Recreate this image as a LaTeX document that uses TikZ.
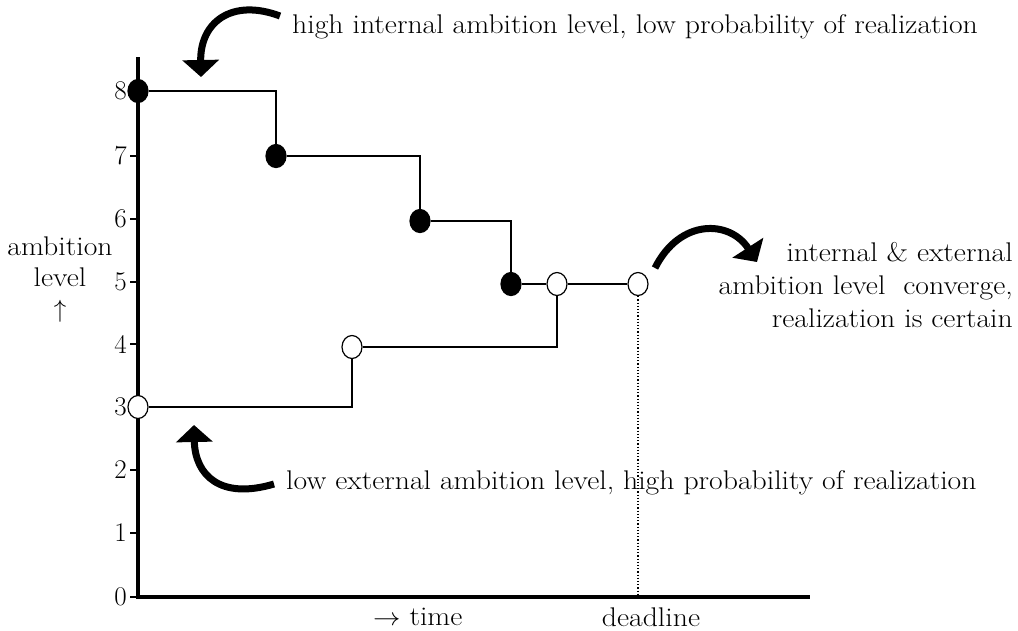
\documentclass[tikz,border=0pt]{standalone}
\usetikzlibrary{shapes.geometric,arrows.meta}
\newcommand{\wide}[1]{\scalebox{1.1}[1]{#1}}
\begin{document}
\begin{tikzpicture}[x=1pt,y=-1pt,
  lbl/.style={font=\fontsize{27}{31}\selectfont, inner sep=0pt},
  filled/.style={ellipse, draw, fill=black, line width=1.2pt,
    minimum width=20pt, minimum height=23pt, inner sep=0pt},
  hollow/.style={filled, fill=white},
  stepline/.style={line width=1.4pt},
  bigarrow/.style={line width=7pt, -{Triangle[width=36pt,length=17pt]}},
  axisline/.style={line width=4pt}]
\useasboundingbox (0,0) rectangle (1018,630);

% axes
\coordinate (ytop) at (138,57);
\coordinate (origin) at (138,597);
\coordinate (xend) at (810,597);
\draw[axisline] (ytop) -- (origin) -- (xend);

% ticks and their labels
\foreach \v/\y in {0/597,1/533,2/470,3/407,4/344,5/282,6/219,7/156,8/91}{
  \coordinate (tk\v) at (130,\y);
  \coordinate (ta\v) at (138,\y);
  \draw[stepline] (tk\v) -- (ta\v);
  \node[lbl, anchor=east] (tl\v) at (127,\y) {\v};
}

% internal ambition level (filled) and external ambition level (hollow)
\node[filled] (a8) at (138,91) {};
\node[filled] (a7) at (276,156) {};
\node[filled] (a6) at (420,221) {};
\node[filled] (a5) at (511,284) {};
\node[hollow] (b5) at (557,284) {};
\node[hollow] (d5) at (638,284) {};
\node[hollow] (b4) at (352,347) {};
\node[hollow] (b3) at (138,407) {};

\draw[stepline] (a8) -| (a7);
\draw[stepline] (a7) -| (a6);
\draw[stepline] (a6) -| (a5);
\draw[stepline] (a5) -- (b5);
\draw[stepline] (b5) -- (d5);
\draw[stepline] (b3) -| (b4);
\draw[stepline] (b4) -| (b5);

\coordinate (dl) at (638,597);
\draw[line width=1.2pt, dotted] (d5) -- (dl);

% curved pointers
\coordinate (p1s) at (280,16);
\coordinate (p1e) at (201,77);
\draw[bigarrow] (p1s) .. controls (232,-2) and (200,22) .. (p1e);
\coordinate (p2s) at (274,484);
\coordinate (p2e) at (194,425);
\draw[bigarrow] (p2s) .. controls (220,500) and (195,475) .. (p2e);
\coordinate (p3s) at (655,268);
\coordinate (p3e) at (757,262);
\draw[bigarrow] (p3s) .. controls (680,218) and (730,220) .. (p3e);

% texts
\node[lbl, anchor=west] (hi) at (292,27) {\wide{high internal ambition level, low probability of realization}};
\node[lbl, anchor=west] (lo) at (286,483) {\wide{low external ambition level, high probability of realization}};
\node[lbl, align=right, anchor=east, font=\fontsize{27}{33}\selectfont] (conv) at (1013,285)
  {\wide{internal \& external}\\\wide{ambition level\ \ converge,}\\\wide{realization is certain}};
\node[lbl, align=center] (ylab) at (60,280) {\wide{ambition}\\\wide{level}\\$\uparrow$};
\node[lbl, anchor=west] (time) at (373,617) {\wide{$\rightarrow$ time}};
\node[lbl] (dead) at (651,617) {\wide{deadline}};
\end{tikzpicture}
\end{document}
